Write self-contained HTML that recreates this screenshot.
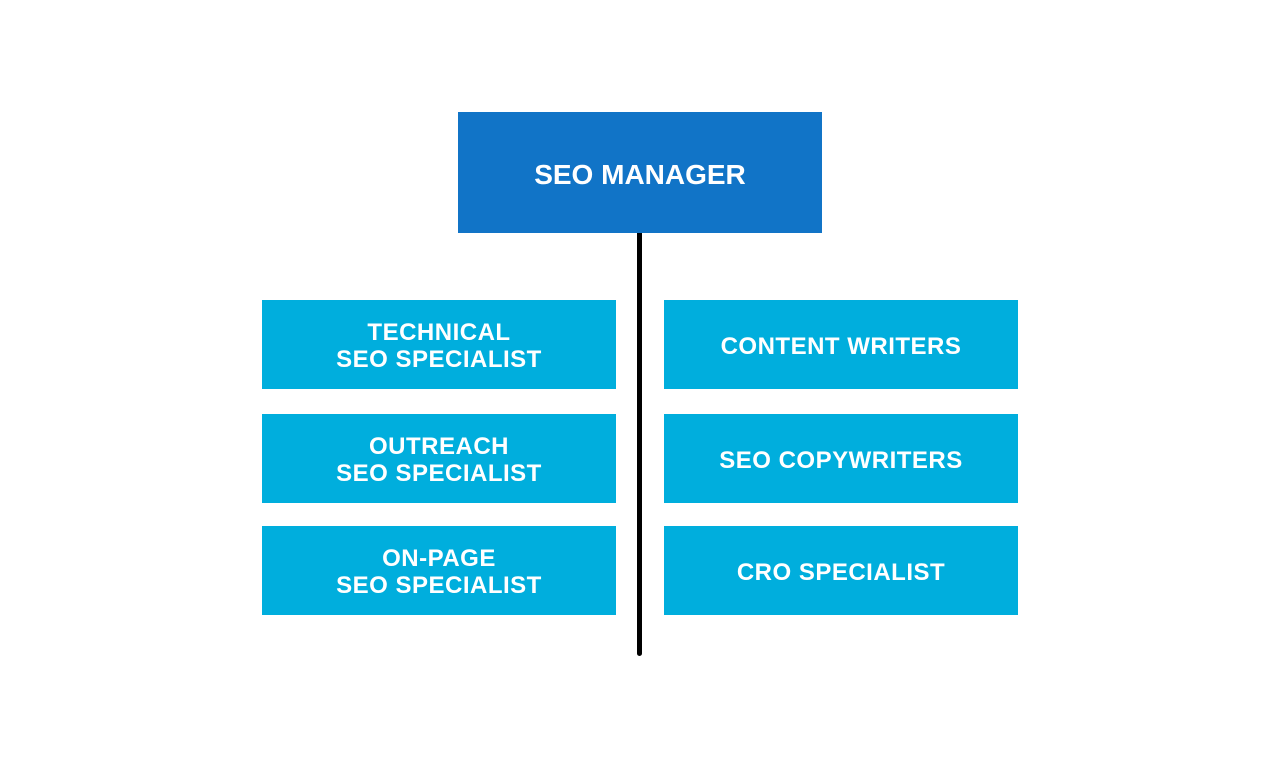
<!DOCTYPE html>
<html><head><meta charset="utf-8"><style>
body{margin:0;width:1280px;height:768px;background:#fff;position:relative;overflow:hidden;font-family:"Liberation Sans",sans-serif;}
.b{position:absolute;display:flex;align-items:center;justify-content:center;text-align:center;color:#fff;font-weight:bold;font-size:24px;line-height:27px;letter-spacing:0.5px;background:#00aedd;width:354px;height:89px;box-sizing:border-box;padding-top:3px;}
.top{left:458px;top:112px;width:364px;height:121px;background:#1174c7;font-size:28px;letter-spacing:0;}
.line{position:absolute;left:637px;top:230px;width:5px;height:426px;background:#000;border-radius:0 0 3px 3px;}
</style></head><body>
<div class="line"></div>
<div class="b top">SEO MANAGER</div>
<div class="b" style="left:262px;top:300px">TECHNICAL<br>SEO SPECIALIST</div>
<div class="b" style="left:262px;top:414px">OUTREACH<br>SEO SPECIALIST</div>
<div class="b" style="left:262px;top:526px">ON-PAGE<br>SEO SPECIALIST</div>
<div class="b" style="left:664px;top:300px">CONTENT WRITERS</div>
<div class="b" style="left:664px;top:414px">SEO COPYWRITERS</div>
<div class="b" style="left:664px;top:526px">CRO SPECIALIST</div>
</body></html>
